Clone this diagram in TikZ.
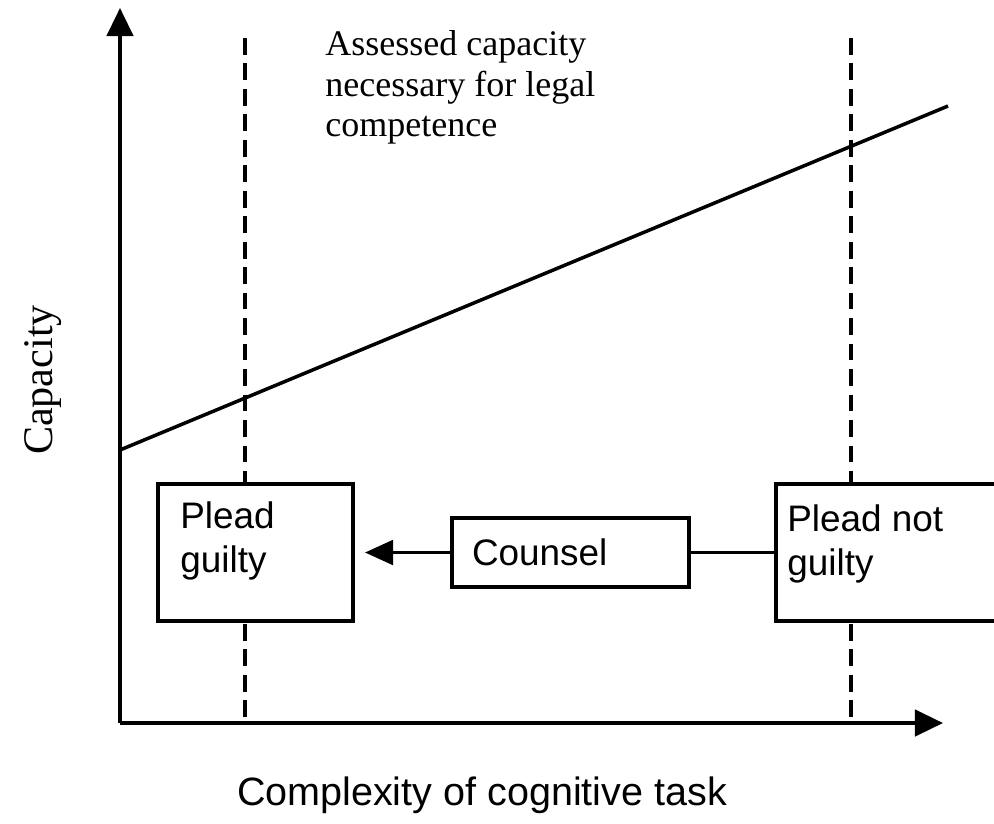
\documentclass[tikz,border=0pt]{standalone}
\usepackage{fontspec}
\setmainfont{Liberation Serif}
\newfontfamily\arialfont{Liberation Sans}
\usetikzlibrary{arrows.meta}
\tikzstyle{axis} = [line width=2.1pt, -{Triangle[length=16pt,width=15pt]}]
\tikzstyle{guide} = [line width=1.9pt, dash pattern=on 9.5pt off 5pt]
\tikzstyle{plea} = [rectangle, draw=black, line width=2pt, minimum width=3.9cm, minimum height=2.74cm, fill=white]
\tikzstyle{pleatext} = [font=\arialfont\fontsize{21}{25.5}\selectfont, align=left, inner sep=0pt, anchor=north west]
\tikzstyle{counsel} = [rectangle, draw=black, line width=2pt, minimum width=4.74cm, minimum height=1.38cm, text width=3.94cm, inner xsep=0.4cm, align=left, fill=white, font=\arialfont\fontsize{21}{25.5}\selectfont]
\tikzstyle{arrow} = [line width=2pt, -{Triangle[length=16pt,width=14pt]}]

\begin{document}
\begin{tikzpicture}[x=0.02cm, y=-0.02cm]
  \useasboundingbox (0,0) rectangle (994,823);
  \coordinate (origin) at (120,723);
  \coordinate (ytop) at (120,8);
  \coordinate (xend) at (943,723);
  \coordinate (lowtop) at (245,38);
  \coordinate (lowbot) at (245,723);
  \coordinate (hightop) at (851,38);
  \coordinate (highbot) at (851,723);
  \coordinate (needstart) at (120,450);
  \coordinate (needend) at (948,106);

  % guides for the two tasks
  \draw[guide] (lowtop) -- (lowbot);
  \draw[guide] (hightop) -- (highbot);

  % axes
  \draw[axis] (origin) -- (ytop);
  \draw[axis] (origin) -- (xend);
  \draw[line width=2pt] (needstart) -- (needend);

  \node (need) [align=left, anchor=north west, inner sep=0pt, font=\fontsize{20.5}{23.2}\selectfont] at (325,30) {Assessed capacity\\necessary for legal\\competence};
  \node (ylabel) [rotate=90, anchor=base, font=\fontsize{24}{28}\selectfont] at (52,380) {Capacity};
  \node (xlabel) [anchor=base, font=\arialfont\fontsize{22.5}{27}\selectfont] at (482,805) {Complexity of cognitive task};

  % pleas
  \node (guilty) [plea] at (255.5,552.5) {};
  \node (guiltytext) [pleatext] at (180,501) {Plead\\guilty};
  \node (notguilty) [plea, minimum width=4.46cm] at (887.5,552.5) {};
  \node (notguiltytext) [pleatext] at (787,504) {Plead not\\guilty};
  \node (counsel) [counsel] at (570.5,552.5) {Counsel};
  \coordinate (tip) at (365,552.5);

  \draw[arrow] (counsel.west) -- (tip);
  \draw[line width=2pt] (counsel.east) -- (notguilty.west);
\end{tikzpicture}
\end{document}
